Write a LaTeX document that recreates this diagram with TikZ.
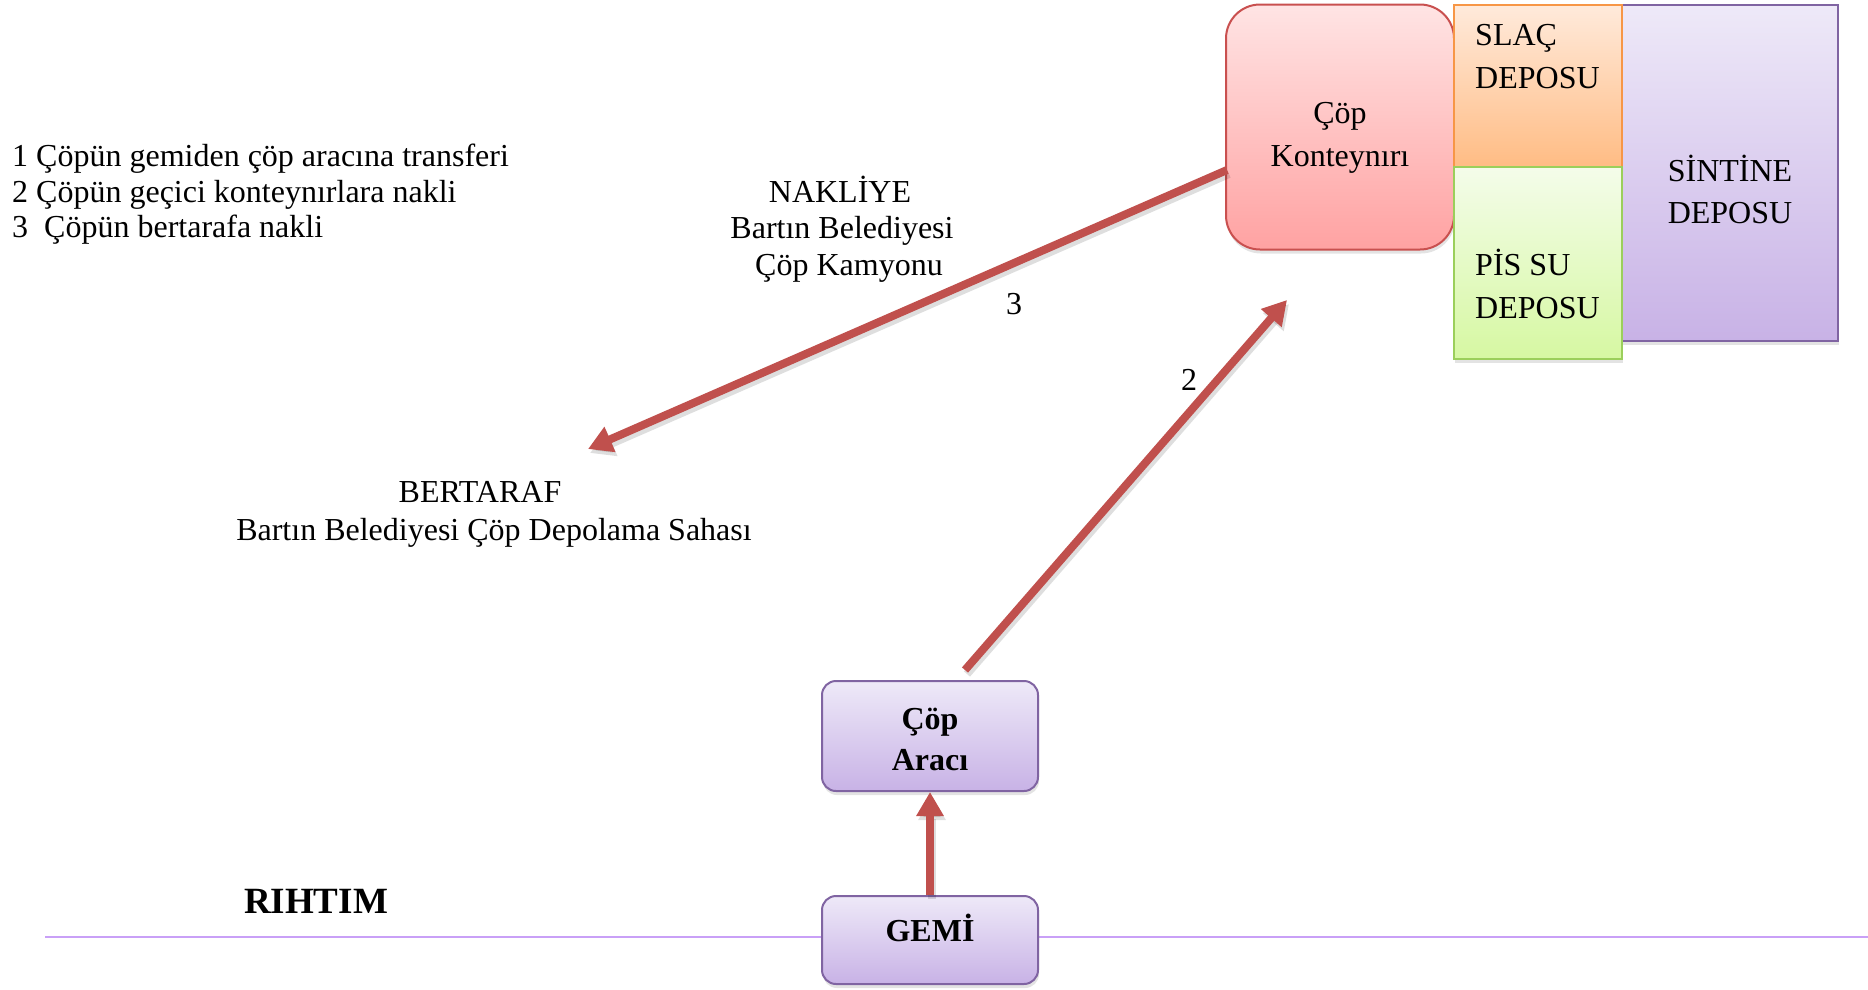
\documentclass[tikz,border=0pt]{standalone}
\usepackage{fontspec}
\setmainfont{Liberation Serif}
\usetikzlibrary{arrows.meta,shadows}
\definecolor{arrowred}{HTML}{C0504D}
\definecolor{contT}{HTML}{FFE4E4}
\definecolor{contB}{HTML}{FFA2A2}
\definecolor{contD}{HTML}{C9504F}
\definecolor{slacT}{HTML}{FFEADB}
\definecolor{slacB}{HTML}{FFBC84}
\definecolor{slacD}{HTML}{F79646}
\definecolor{pisT}{HTML}{F4FCEA}
\definecolor{pisB}{HTML}{D6F8A2}
\definecolor{pisD}{HTML}{9BCF5B}
\definecolor{purT}{HTML}{EEE9F8}
\definecolor{purB}{HTML}{C8B2E6}
\definecolor{purD}{HTML}{8064A2}
\definecolor{quay}{HTML}{C9A0F7}
\begin{document}
\begin{tikzpicture}[x=1pt,y=1pt,
  txt/.style={inner sep=0pt, font=\fontsize{32}{38}\selectfont},
  btxt/.style={inner sep=0pt, font=\fontsize{32}{38}\selectfont\bfseries},
  shadowed/.style={drop shadow={shadow xshift=1pt,shadow yshift=-4pt,opacity=0.22}},
  tank/.style={line width=2pt, inner sep=0pt, shadowed},
  purplebox/.style={tank, draw=purD, top color=purT, bottom color=purB},
  flow/.style={line width=8pt, arrowred, -{Triangle[width=26pt,length=24pt]}},
  flowshade/.style={line width=8pt, black, opacity=0.13, -{Triangle[width=26pt,length=24pt]},
    transform canvas={xshift=2pt,yshift=-4pt}},
]
\useasboundingbox (0,0) rectangle (1868,-989);

% quay line
\coordinate (quayL) at (45,-937);
\coordinate (quayR) at (1868,-937);
\draw[quay, line width=2.5pt] (quayL) -- (quayR);
\node[inner sep=0pt, font=\fontsize{37}{42}\selectfont\bfseries, anchor=base] (rihtim) at (316,-913) {RIHTIM};

% storage tanks
\node[tank, draw=contD, top color=contT, bottom color=contB, rounded corners=34pt,
  minimum width=228pt, minimum height=245pt] (cont) at (1340,-127) {};
\node[purplebox, minimum width=216pt, minimum height=336pt] (sint) at (1730,-173) {};
\node[tank, draw=slacD, top color=slacT, bottom color=slacB,
  minimum width=168pt, minimum height=162pt] (slac) at (1538,-86) {};
\node[tank, draw=pisD, top color=pisT, bottom color=pisB,
  minimum width=168pt, minimum height=192pt] (pis) at (1538,-263) {};

\node[txt, anchor=base] (contA) at (1340,-123) {Çöp};
\node[txt, anchor=base] (contB) at (1340,-166) {Konteynırı};
\node[txt, anchor=base west] (slacA) at (1475,-45) {SLAÇ};
\node[txt, anchor=base west] (slacB) at (1475,-88) {DEPOSU};
\node[txt, anchor=base west] (pisA) at (1475,-275) {PİS SU};
\node[txt, anchor=base west] (pisB) at (1475,-318) {DEPOSU};
\node[txt, anchor=base] (sintA) at (1730,-181) {SİNTİNE};
\node[txt, anchor=base] (sintB) at (1730,-223) {DEPOSU};

% ship and collection vehicle
\node[purplebox, rounded corners=14pt, minimum width=216pt, minimum height=110pt] (arac) at (930,-736) {};
\node[btxt, anchor=base] (aracA) at (930,-729) {Çöp};
\node[btxt, anchor=base] (aracB) at (930,-770) {Aracı};
\node[purplebox, rounded corners=14pt, minimum width=216pt, minimum height=88pt] (gemi) at (930,-940) {};
\node[btxt, anchor=base] (gemiA) at (930,-941) {GEMİ};

% legend
\node[txt, anchor=base west] (leg1) at (12,-166) {1 Çöpün gemiden çöp aracına transferi};
\node[txt, anchor=base west] (leg2) at (12,-202) {2 Çöpün geçici konteynırlara nakli};
\node[txt, anchor=base west] (leg3) at (12,-237) {3\ \ Çöpün bertarafa nakli};

% transport and disposal labels
\node[txt, anchor=base] (nak1) at (840,-202) {NAKLİYE};
\node[txt, anchor=base] (nak2) at (842,-238) {Bartın Belediyesi};
\node[txt, anchor=base] (nak3) at (849,-275) {Çöp Kamyonu};
\node[txt, anchor=base] (ber1) at (480,-502) {BERTARAF};
\node[txt, anchor=base] (ber2) at (494,-540) {Bartın Belediyesi Çöp Depolama Sahası};
\node[txt, anchor=base] (lab3) at (1014,-314) {3};
\node[txt, anchor=base] (lab2) at (1189,-390) {2};

% flows
\coordinate (a2s) at (965,-670);
\coordinate (a2e) at (1287,-300);
\coordinate (a3s) at (1227,-170);
\coordinate (a3e) at (588,-449);
\draw[flowshade] (gemi.north) -- (arac.south);
\draw[flowshade] (a2s) -- (a2e);
\draw[flowshade] (a3s) -- (a3e);
\draw[flow] (gemi.north) -- (arac.south);
\draw[flow] (a2s) -- (a2e);
\draw[flow] (a3s) -- (a3e);
\end{tikzpicture}
\end{document}
